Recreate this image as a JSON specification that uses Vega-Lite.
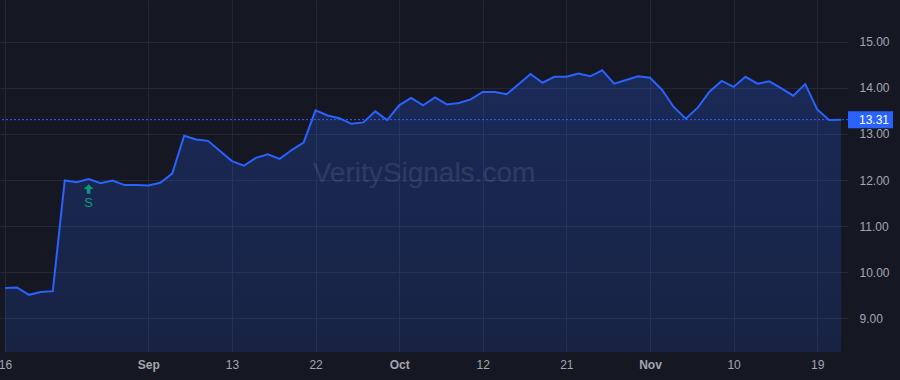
{
  "$schema": "https://vega.github.io/schema/vega-lite/v6.json",
  "width": 848,
  "height": 352,
  "autosize": {"type": "none"},
  "padding": {"left": 0, "top": 0, "right": 52, "bottom": 28},
  "background": "#151822",
  "view": {"stroke": null, "fill": null},
  "config": {
    "axis": {"labelFont": "Liberation Sans", "labelFontSize": 12, "labelColor": "#a3a6af", "gridColor": "#242835", "gridWidth": 1, "domain": false, "ticks": false, "title": null},
    "text": {"font": "Liberation Sans"}
  },
  "datasets": {
    "prices": [
      {"date": "2021-08-16", "close": 9.66},
      {"date": "2021-08-17", "close": 9.67},
      {"date": "2021-08-18", "close": 9.51},
      {"date": "2021-08-19", "close": 9.57},
      {"date": "2021-08-20", "close": 9.59},
      {"date": "2021-08-23", "close": 11.99},
      {"date": "2021-08-24", "close": 11.95},
      {"date": "2021-08-25", "close": 12.02},
      {"date": "2021-08-26", "close": 11.93},
      {"date": "2021-08-27", "close": 11.99},
      {"date": "2021-08-30", "close": 11.89},
      {"date": "2021-08-31", "close": 11.89},
      {"date": "2021-09-01", "close": 11.88},
      {"date": "2021-09-02", "close": 11.94},
      {"date": "2021-09-03", "close": 12.14},
      {"date": "2021-09-07", "close": 12.96},
      {"date": "2021-09-08", "close": 12.88},
      {"date": "2021-09-09", "close": 12.85},
      {"date": "2021-09-10", "close": 12.63},
      {"date": "2021-09-13", "close": 12.41},
      {"date": "2021-09-14", "close": 12.31},
      {"date": "2021-09-15", "close": 12.48},
      {"date": "2021-09-16", "close": 12.56},
      {"date": "2021-09-17", "close": 12.46},
      {"date": "2021-09-20", "close": 12.65},
      {"date": "2021-09-21", "close": 12.81},
      {"date": "2021-09-22", "close": 13.51},
      {"date": "2021-09-23", "close": 13.40},
      {"date": "2021-09-24", "close": 13.34},
      {"date": "2021-09-27", "close": 13.22},
      {"date": "2021-09-28", "close": 13.25},
      {"date": "2021-09-29", "close": 13.49},
      {"date": "2021-09-30", "close": 13.30},
      {"date": "2021-10-01", "close": 13.62},
      {"date": "2021-10-04", "close": 13.78},
      {"date": "2021-10-05", "close": 13.62},
      {"date": "2021-10-06", "close": 13.79},
      {"date": "2021-10-07", "close": 13.64},
      {"date": "2021-10-08", "close": 13.67},
      {"date": "2021-10-11", "close": 13.75},
      {"date": "2021-10-12", "close": 13.91},
      {"date": "2021-10-13", "close": 13.91},
      {"date": "2021-10-14", "close": 13.86},
      {"date": "2021-10-15", "close": 14.08},
      {"date": "2021-10-18", "close": 14.30},
      {"date": "2021-10-19", "close": 14.11},
      {"date": "2021-10-20", "close": 14.24},
      {"date": "2021-10-21", "close": 14.24},
      {"date": "2021-10-22", "close": 14.31},
      {"date": "2021-10-25", "close": 14.25},
      {"date": "2021-10-26", "close": 14.38},
      {"date": "2021-10-27", "close": 14.09},
      {"date": "2021-10-28", "close": 14.17},
      {"date": "2021-10-29", "close": 14.25},
      {"date": "2021-11-01", "close": 14.22},
      {"date": "2021-11-02", "close": 13.96},
      {"date": "2021-11-03", "close": 13.58},
      {"date": "2021-11-04", "close": 13.33},
      {"date": "2021-11-05", "close": 13.57},
      {"date": "2021-11-08", "close": 13.92},
      {"date": "2021-11-09", "close": 14.15},
      {"date": "2021-11-10", "close": 14.02},
      {"date": "2021-11-11", "close": 14.24},
      {"date": "2021-11-12", "close": 14.09},
      {"date": "2021-11-15", "close": 14.14},
      {"date": "2021-11-16", "close": 13.99},
      {"date": "2021-11-17", "close": 13.83},
      {"date": "2021-11-18", "close": 14.08},
      {"date": "2021-11-19", "close": 13.53},
      {"date": "2021-11-22", "close": 13.30},
      {"date": "2021-11-23", "close": 13.31}
    ],
    "signals": [
      {"date": "2021-08-25", "close": 12.02, "label": "S"}
    ],
    "last": [
      {"date": "2021-11-23", "close": 13.31, "label": "13.31"}
    ],
    "watermark": [
      {"text": "VeritySignals.com"}
    ]
  },
  "encoding": {
    "x": {
      "field": "date",
      "type": "ordinal",
      "scale": {"type": "point", "padding": 0.5, "align": 0.42},
      "axis": {
        "values": ["2021-08-16", "2021-09-01", "2021-09-13", "2021-09-22", "2021-10-01", "2021-10-12", "2021-10-21", "2021-11-01", "2021-11-10", "2021-11-19"],
        "labelExpr": "slice(datum.value, 8, 10) == '01' ? ({'08':'Aug','09':'Sep','10':'Oct','11':'Nov'})[slice(datum.value, 5, 7)] : toString(toNumber(slice(datum.value, 8, 10)))",
        "labelFontWeight": {"condition": {"test": "slice(datum.value, 8, 10) == '01'", "value": "bold"}, "value": "normal"},
        "labelAngle": 0,
        "labelPadding": 7,
        "labelOverlap": false,
        "grid": true
      }
    },
    "y": {
      "field": "close",
      "type": "quantitative",
      "scale": {"domain": [8.27, 15.905], "nice": false, "zero": false},
      "axis": {"orient": "right", "values": [9, 10, 11, 12, 13, 14, 15], "format": ".2f", "labelPadding": 11, "grid": true}
    }
  },
  "layer": [
    {
      "data": {"name": "prices"},
      "mark": {
        "type": "area",
        "clip": true,
        "color": {
          "gradient": "linear", "x1": 0, "y1": 0, "x2": 0, "y2": 1,
          "stops": [
            {"offset": 0, "color": "rgba(41,98,255,0.24)"},
            {"offset": 1, "color": "rgba(41,98,255,0.03)"}
          ]
        }
      },
      "encoding": {"y2": {"value": "height"}}
    },
    {
      "data": {"name": "prices"},
      "mark": {"type": "line", "color": "#2962ff", "strokeWidth": 2, "strokeJoin": "miter"}
    },
    {
      "data": {"name": "last"},
      "mark": {"type": "rule", "color": "#2962ff", "strokeWidth": 1, "strokeDash": [2, 2]},
      "encoding": {"x": null}
    },
    {
      "data": {"name": "last"},
      "mark": {"type": "rect", "color": "#2962ff", "yOffset": -8.5, "y2Offset": 8.5, "clip": false},
      "encoding": {
        "x": {"value": {"expr": "width"}},
        "x2": {"value": {"expr": "width + 45"}},
        "y2": {"field": "close"}
      }
    },
    {
      "data": {"name": "last"},
      "mark": {"type": "text", "color": "#ffffff", "fontSize": 12, "align": "left", "baseline": "middle"},
      "encoding": {
        "x": {"value": {"expr": "width + 11"}},
        "text": {"field": "label"}
      }
    },
    {
      "data": {"name": "signals"},
      "mark": {"type": "point", "filled": true, "color": "#089981", "opacity": 1, "size": 90, "yOffset": 10,
        "shape": "M0,-1 L1,0 L0.38,0 L0.38,1 L-0.38,1 L-0.38,0 L-1,0 Z"}
    },
    {
      "data": {"name": "signals"},
      "mark": {"type": "text", "color": "#089981", "fontSize": 13, "baseline": "middle", "dy": 24},
      "encoding": {"text": {"field": "label"}}
    },
    {
      "data": {"name": "watermark"},
      "mark": {"type": "text", "fontSize": 28, "color": "#ffffff", "opacity": 0.09, "align": "center", "baseline": "alphabetic"},
      "encoding": {
        "x": {"value": {"expr": "width / 2"}},
        "y": {"value": {"expr": "height / 2 + 6"}},
        "text": {"field": "text"}
      }
    }
  ]
}
